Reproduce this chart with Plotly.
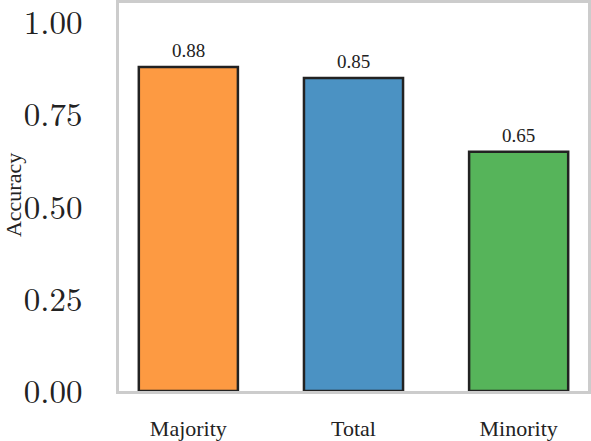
import plotly.graph_objects as go

# data
groups = ['Majority', 'Total', 'Minority']
accuracy = [0.88, 0.85, 0.65]
bar_colors = ['#fd9a42', '#4b92c3', '#56b45a']
y_ticks = [0.0, 0.25, 0.5, 0.75, 1.0]

CM = 'Latin Modern Roman, CMU Serif, Liberation Serif, serif'
TIMES = 'Liberation Serif, Times New Roman, serif'

fig = go.Figure()
fig.add_trace(go.Bar(
    x=groups,
    y=accuracy,
    width=0.6,
    marker=dict(color=bar_colors, line=dict(color='#222222', width=2.5)),
    showlegend=False,
))

# value labels above the bars
for g, v in zip(groups, accuracy):
    fig.add_annotation(x=g, y=v, text=f'{v:.2f}', showarrow=False,
                       yanchor='bottom', yshift=4,
                       font=dict(family=TIMES, size=19, color='#222222'))

fig.add_annotation(xref='paper', yref='paper', x=(13 - 119) / 469, y=0.505,
                   xanchor='center', yanchor='middle',
                   text='Accuracy', textangle=-90, showarrow=False,
                   font=dict(family=TIMES, size=22, color='#222222'))

fig.update_layout(
    width=591, height=441,
    margin=dict(l=119, r=3, t=3, b=50),
    paper_bgcolor='white', plot_bgcolor='white',
)
fig.update_xaxes(range=[-0.42, 2.42], showgrid=False, showline=True, mirror=True,
                 linecolor='#cccccc', linewidth=3, ticks='', ticklabelstandoff=16,
                 automargin=False,
                 tickfont=dict(family=TIMES, size=22, color='#222222'))
fig.update_yaxes(range=[0, 1.054], showgrid=False, zeroline=False, showline=True,
                 mirror=True, linecolor='#cccccc', linewidth=3, ticks='',
                 tickvals=y_ticks, ticktext=[f'{t:.2f}' for t in y_ticks],
                 ticklabelstandoff=27, automargin=False, ticklabeloverflow='allow',
                 tickfont=dict(family=CM, size=33, color='#222222'))

# page body has a default margin; drop it so the figure fills the window
fig.write_html('out.html', config={'displayModeBar': False},
               post_script="document.body.style.margin='0';")
